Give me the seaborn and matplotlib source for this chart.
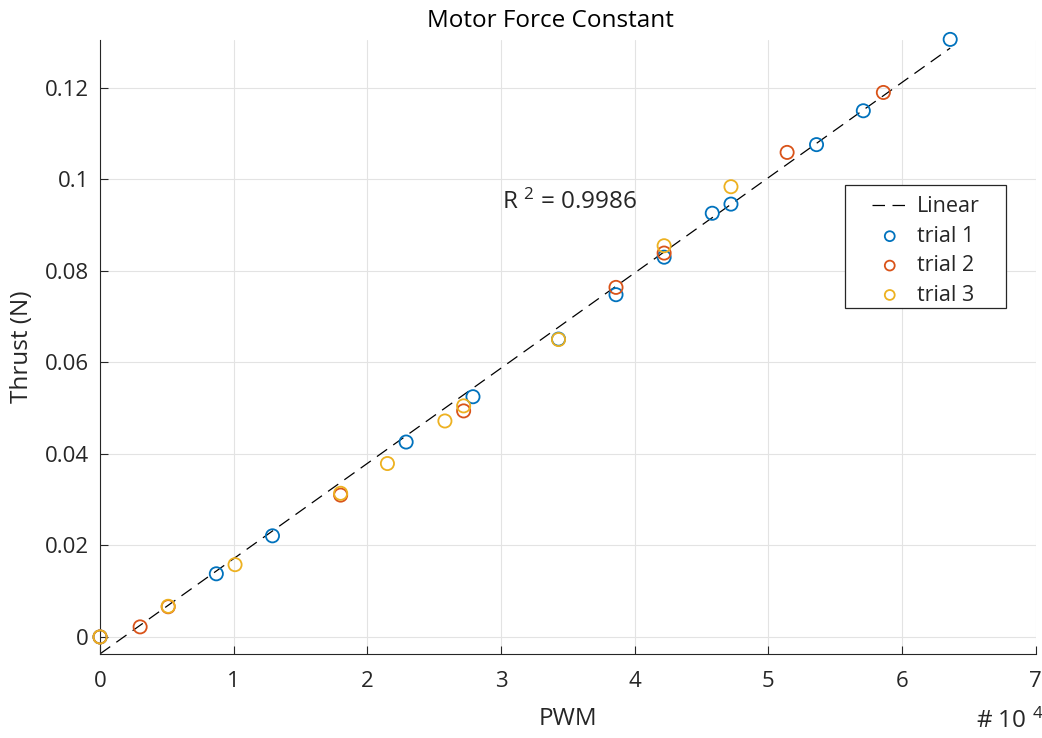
import numpy as np
import pandas as pd
import seaborn as sns
import matplotlib.pyplot as plt
from matplotlib.patches import Rectangle
from matplotlib.ticker import FuncFormatter, MultipleLocator

# data (PWM raw, thrust in N)
pwm_trial1 = [0, 8700, 12900, 22900, 27900, 34300, 38600, 42200, 45800, 47200, 53600, 57100, 63600]
thrust_trial1 = [0.0, 0.0138, 0.0221, 0.0426, 0.0525, 0.0651, 0.0748, 0.0830, 0.0926, 0.0946, 0.1076, 0.1150, 0.1306]

pwm_trial2 = [0, 3000, 5100, 18000, 27200, 38600, 42200, 51400, 58600]
thrust_trial2 = [0.0, 0.0022, 0.0066, 0.0310, 0.0494, 0.0764, 0.0839, 0.1059, 0.1190]

pwm_trial3 = [0, 5100, 10100, 18000, 21500, 25800, 27200, 34300, 42200, 47200]
thrust_trial3 = [0.0, 0.0067, 0.0158, 0.0314, 0.0379, 0.0472, 0.0505, 0.0650, 0.0855, 0.0984]

# linear fit line end points
fit_pwm = [0, 63600]
fit_thrust = [-0.0037, 0.1287]
r_squared = 0.9986

colors = ["#0072BD", "#D95319", "#EDB120"]
dark = "#262626"

sns.set_style("whitegrid")
plt.rcParams['font.family'] = ['Open Sans', 'DejaVu Sans']
plt.rcParams['mathtext.fontset'] = 'custom'
plt.rcParams['mathtext.rm'] = 'Open Sans'
plt.rcParams['mathtext.it'] = 'Open Sans'

fig = plt.figure(figsize=(10.42, 7.38), dpi=100)
ax = fig.add_axes([0.096, 0.114, 0.898, 0.832])

sns.lineplot(x=fit_pwm, y=fit_thrust, ax=ax, color="black", linewidth=0.9,
             linestyle=(0, (10, 6)), label="Linear")

trials = [(pwm_trial1, thrust_trial1), (pwm_trial2, thrust_trial2), (pwm_trial3, thrust_trial3)]
for i, (px, ty) in enumerate(trials):
    sns.scatterplot(x=px, y=ty, ax=ax, s=90, marker="o", facecolor="none",
                    edgecolor=colors[i], linewidth=1.3, label=f"trial {i + 1}", zorder=3)
for coll in ax.collections:
    coll.set_clip_on(False)

ax.set_xlim(0, 70000)
ax.set_ylim(-0.0037, 0.1305)
ax.xaxis.set_major_locator(MultipleLocator(10000))
ax.xaxis.set_major_formatter(FuncFormatter(lambda v, p: f"{v / 1e4:g}"))
ax.set_yticks([0, 0.02, 0.04, 0.06, 0.08, 0.1, 0.12])
ax.yaxis.set_major_formatter(FuncFormatter(lambda v, p: "0" if v == 0 else f"{v:g}"))

ax.grid(True, color="#e3e3e3", linewidth=0.8)
for side in ["top", "right"]:
    ax.spines[side].set_visible(False)
for side in ["left", "bottom"]:
    ax.spines[side].set_color(dark)
    ax.spines[side].set_linewidth(0.8)
ax.tick_params(direction="in", length=6, width=0.8, color=dark,
               labelsize=16, labelcolor=dark, left=True, bottom=True)
ax.tick_params(axis="x", pad=12)
ax.tick_params(axis="y", pad=8)

ax.set_xlabel("PWM", fontsize=17.5, color=dark, labelpad=11)
ax.set_ylabel("Thrust (N)", fontsize=17.5, color=dark, labelpad=8)
ax.set_title("Motor Force Constant", fontsize=17.5, color="black", pad=9, x=0.481)

ax.text(30100, 0.0951, f"R $^{{2}}$ = {r_squared}", fontsize=17.5, va="center", ha="left")
fig.text(0.937, 0.006, "# 10 $^{4}$", fontsize=17.5, color=dark, ha="left", va="bottom")

# legend box drawn as a plain rectangle so the padding matches
ax.add_patch(Rectangle((0.796, 0.5635), 0.172, 0.2005, transform=ax.transAxes,
                       facecolor="white", edgecolor=dark, linewidth=0.9, zorder=4))
leg = ax.legend(loc="upper left", bbox_to_anchor=(0.825, 0.745), fontsize=15.5,
                frameon=False, borderpad=0, borderaxespad=0,
                handlelength=1.65, handletextpad=0.45, labelspacing=0.39, markerscale=0.75)
leg.set_zorder(5)

fig.savefig("out.png", dpi=100)
